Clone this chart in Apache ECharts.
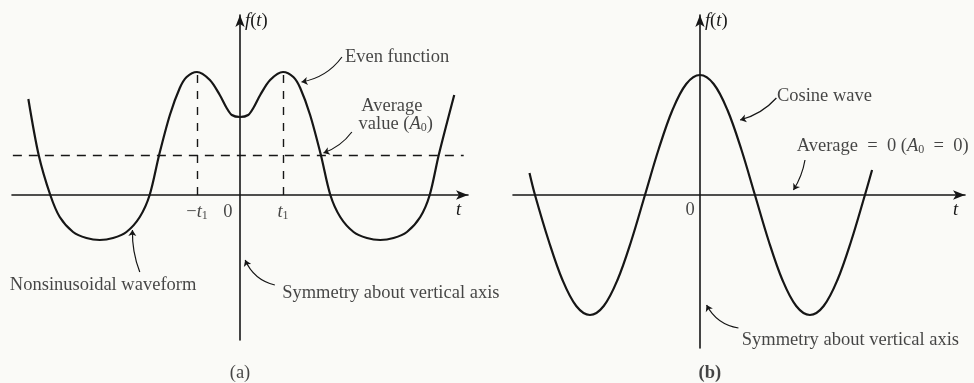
<!DOCTYPE html>
<html>
<head>
<meta charset="utf-8">
<script src="https://cdn.jsdelivr.net/npm/echarts@6/dist/echarts.min.js"></script>
<style>
    html, body { margin: 0; padding: 0; background: #fafaf7; }
    #chart { width: 974px; height: 383px; }
</style>
</head>
<body>
<div id="chart"></div>
<script>
    // (a) even nonsinusoidal waveform: t in units of t1
    const tA = [-4.92, -4.68, -4.41, -4.19, -3.88, -3.57, -3.26, -2.95, -2.64, -2.33, -2.10, -1.88, -1.63, -1.40, -1.24, -1.0, -0.70, -0.47, -0.31, -0.19, 0,
                0.19, 0.31, 0.47, 0.70, 1.0, 1.24, 1.40, 1.63, 1.88, 2.10, 2.33, 2.64, 2.95, 3.26, 3.57, 3.88, 4.19, 4.41, 4.62, 4.98];
    const fA = [9.6, 4.0, 0, -2.2, -3.7, -4.3, -4.5, -4.3, -3.7, -2.2, 0, 4.0, 8.0, 10.7, 11.8, 12.3, 11.5, 10.0, 8.7, 8.0, 7.8,
                8.0, 8.7, 10.0, 11.5, 12.3, 11.8, 10.7, 8.0, 4.0, 0, -2.2, -3.7, -4.3, -4.5, -4.3, -3.7, -2.2, 0, 4.0, 10.0];
    const avgA = 4.0;
    const peakA = 12.3;
    const ticksA = [-1, 1];
    const tickLabelsA = ['−{i|t}{s|1}', '{i|t}{s|1}'];

    // (b) cosine wave
    const tB = [-3.1, -3, -2.75, -2.5, -2.25, -2, -1.75, -1.5, -1.25, -1, -0.75, -0.5, -0.25, 0,
                0.25, 0.5, 0.75, 1, 1.25, 1.5, 1.75, 2, 2.25, 2.5, 2.75, 3, 3.13];
    const fB = [2.2, 0, -4.6, -8.5, -11.1, -12, -11.1, -8.5, -4.6, 0, 4.6, 8.5, 11.1, 12,
                11.1, 8.5, 4.6, 0, -4.6, -8.5, -11.1, -12, -11.1, -8.5, -4.6, 0, 2.5];

    const ink = '#161616';
    const font = 'Liberation Serif';
    const fs = 18.5;
    const rich = {
        i: {fontStyle: 'italic', fontFamily: font, fontSize: fs, color: ink},
        s: {fontFamily: font, fontSize: 12, color: ink, padding: [8, 0, 0, 0]},
        b: {fontFamily: font, fontSize: fs, fontWeight: 'bold', color: ink}
    };

    // text notes: [text, t, f, align]
    const notesA = [
        ['Even function', 2.44, 13.8, 'left'],
        ['Average', 3.53, 8.9, 'center'],
        ['value ({i|A}{s|0})', 3.62, 7.1, 'center'],
        ['Nonsinusoidal waveform', -5.35, -9.0, 'left'],
        ['Symmetry about vertical axis', 0.98, -9.8, 'left'],
        ['(a)', 0, -17.8, 'center'],
        ['0', -0.28, -1.7, 'center'],
        [tickLabelsA[0], ticksA[0], -1.7, 'center'],
        [tickLabelsA[1], ticksA[1], -1.7, 'center']
    ];
    const notesB = [
        ['Cosine wave', 1.40, 9.9, 'left'],
        ['Average  =  0 ({i|A}{s|0}  =  0)', 1.76, 4.9, 'left'],
        ['Symmetry about vertical axis', 0.76, -14.5, 'left'],
        ['{b|(b)}', 0.18, -17.8, 'center'],
        ['0', -0.18, -1.5, 'center']
    ];
    // leader arrows: [from, to, curveness]
    const arrowsA = [
        [[2.37, 13.8], [1.43, 11.3], 0.2],
        [[2.60, 6.3], [1.94, 4.2], 0.15],
        [[-2.33, -7.7], [-2.50, -3.5], 0.1],
        [[0.81, -9.0], [0.12, -6.5], 0.25]
    ];
    const arrowsB = [
        [[1.39, 9.7], [0.73, 7.5], 0.15],
        [[1.91, 3.5], [1.70, 0.5], 0.1],
        [[0.70, -13.3], [0.12, -11.0], 0.25]
    ];

    const zip = (xs, ys) => xs.map((x, i) => [x, ys[i]]);

    function axisPair(idx, xr, yr) {
        const line = {onZero: true, symbol: ['none', 'arrow'], symbolSize: [7, 12],
            lineStyle: {color: ink, width: 1.6}};
        return {
            x: {type: 'value', gridIndex: idx, min: xr[0], max: xr[1],
                axisLine: line, axisTick: {show: false}, axisLabel: {show: false}, splitLine: {show: false},
                name: '{i|t}', nameLocation: 'end', nameGap: -12,
                nameTextStyle: {rich: rich, verticalAlign: 'top', padding: [6, 0, 0, 0]}},
            y: {type: 'value', gridIndex: idx, min: yr[0], max: yr[1],
                axisLine: line, axisTick: {show: false}, axisLabel: {show: false}, splitLine: {show: false},
                name: '{i|f}(' + '{i|t})', nameLocation: 'end', nameGap: -6,
                nameTextStyle: {rich: rich, fontFamily: font, fontSize: fs, color: ink,
                    align: 'left', verticalAlign: 'middle', padding: [0, 0, 0, 5]}}
        };
    }

    function noteSeries(idx, notes) {
        return {
            type: 'scatter', xAxisIndex: idx, yAxisIndex: idx, symbolSize: 0, clip: false, silent: true,
            data: notes.map(n => ({
                value: [n[1], n[2]],
                label: {show: true, position: [0, 0], formatter: n[0], align: n[3], verticalAlign: 'middle',
                    fontFamily: font, fontSize: fs, color: ink, rich: rich}
            }))
        };
    }

    function arrowSeries(idx, arrows) {
        return {
            type: 'lines', coordinateSystem: 'cartesian2d', xAxisIndex: idx, yAxisIndex: idx, silent: true,
            symbol: ['none', 'arrow'], symbolSize: 6,
            data: arrows.map(a => ({coords: [a[0], a[1]], lineStyle: {curveness: a[2]}})),
            lineStyle: {color: ink, width: 1.2, opacity: 1}
        };
    }

    const axA = axisPair(0, [-5.3, 5.3], [-14.5, 18]);
    const axB = axisPair(1, [-3.4, 4.82], [-15.3, 18]);

    const chart = echarts.init(document.getElementById('chart'), null, {renderer: 'canvas'});
    chart.setOption({
        animation: false,
        backgroundColor: '#fafaf7',
        grid: [
            {left: 12, top: 15, width: 456, height: 325},
            {left: 513, top: 15, width: 452, height: 333}
        ],
        xAxis: [axA.x, axB.x],
        yAxis: [axA.y, axB.y],
        series: [
            {
                type: 'line', xAxisIndex: 0, yAxisIndex: 0, data: zip(tA, fA), smooth: 0.3,
                showSymbol: false, lineStyle: {color: ink, width: 2.2},
                markLine: {
                    silent: true, symbol: 'none', label: {show: false},
                    lineStyle: {type: [9, 7], color: ink, width: 1.4},
                    data: [
                        [{coord: [-5.28, avgA]}, {coord: [5.2, avgA]}],
                        [{coord: [ticksA[0], 0], lineStyle: {type: [8, 8]}}, {coord: [ticksA[0], peakA]}],
                        [{coord: [ticksA[1], 0], lineStyle: {type: [8, 8]}}, {coord: [ticksA[1], peakA]}]
                    ]
                }
            },
            {
                type: 'line', xAxisIndex: 1, yAxisIndex: 1, data: zip(tB, fB), smooth: 0.35,
                showSymbol: false, lineStyle: {color: ink, width: 2.2}
            },
            arrowSeries(0, arrowsA),
            arrowSeries(1, arrowsB),
            noteSeries(0, notesA),
            noteSeries(1, notesB)
        ]
    });
</script>
</body>
</html>
